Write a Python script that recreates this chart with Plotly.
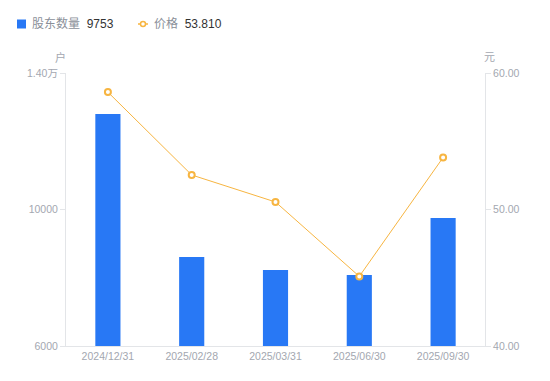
import plotly.graph_objects as go

dates = ["2024/12/31", "2025/02/28", "2025/03/31", "2025/06/30", "2025/09/30"]
holders = [12800, 8610, 8230, 8080, 9753]
price = [58.60, 52.53, 50.55, 45.10, 53.81]

left_ticks = [6000, 10000, 14000]
left_ticktext = ["6000", "10000", "1.40万"]
right_ticks = [40, 50, 60]
right_ticktext = ["40.00", "50.00", "60.00"]

BLUE = "#2878f5"
ORANGE = "#f7b541"
GRAY = "#a3a7b0"
AXIS = "#e3e5e8"
FONT = "Liberation Sans, Arial, Noto Sans CJK SC, sans-serif"

fig = go.Figure()
fig.add_trace(go.Bar(
    x=dates, y=holders, name="股东数量", width=0.3,
    marker=dict(color=BLUE, line=dict(width=0)),
    yaxis="y", showlegend=False,
))
fig.add_trace(go.Scatter(
    x=dates, y=price, name="价格", mode="lines+markers",
    line=dict(color=ORANGE, width=1),
    marker=dict(symbol="circle", size=6, color="white", line=dict(color=ORANGE, width=2)),
    yaxis="y2", showlegend=False,
))

fig.update_layout(
    width=542, height=373,
    margin=dict(l=58, r=65, t=65, b=35),
    paper_bgcolor="white", plot_bgcolor="white",
    font=dict(family=FONT, size=10.5, color=GRAY),
    xaxis=dict(
        type="category", showgrid=False, zeroline=False,
        showline=True, linecolor=AXIS, linewidth=1,
        ticks="", tickfont=dict(size=10.5, color=GRAY),
    ),
    yaxis=dict(
        range=[6000, 14000], tickvals=left_ticks, ticktext=left_ticktext,
        showgrid=False, zeroline=False, showline=True, linecolor=AXIS, linewidth=1,
        ticks="outside", ticklen=5, tickcolor=AXIS, tickfont=dict(size=10.5, color=GRAY),
    ),
    yaxis2=dict(
        range=[40, 60], tickvals=right_ticks, ticktext=right_ticktext,
        overlaying="y", side="right",
        showgrid=False, zeroline=False, showline=True, linecolor=AXIS, linewidth=1,
        ticks="outside", ticklen=5, tickcolor=AXIS, tickfont=dict(size=10.5, color=GRAY),
    ),
    showlegend=False,
)

# axis unit labels
fig.add_annotation(text="户", xref="paper", yref="paper", x=-6/419, y=1.0, yshift=16,
                   showarrow=False, xanchor="center", yanchor="middle",
                   font=dict(size=11, color=GRAY))
fig.add_annotation(text="元", xref="paper", yref="paper", x=1 + 5/419, y=1.0, yshift=16,
                   showarrow=False, xanchor="center", yanchor="middle",
                   font=dict(size=11, color=GRAY))

# custom legend
LY = 1 + (73 - 24) / 273
fig.add_shape(type="rect", xref="paper", yref="paper",
              x0=-49/419, x1=-40/419, y0=1 + (73 - 28.5) / 273, y1=1 + (73 - 19.5) / 273,
              fillcolor=BLUE, line=dict(width=0))
fig.add_annotation(
    text=f"股东数量  <span style='color:#333'>{holders[-1]}</span>",
    xref="paper", yref="paper", x=-36/419, y=LY,
    xanchor="left", yanchor="middle", showarrow=False,
    font=dict(size=12, color="#8a8f99"))
fig.add_shape(type="line", xref="paper", yref="paper",
              x0=72/419, x1=82/419, y0=LY, y1=LY,
              line=dict(color=ORANGE, width=1.5))
fig.add_shape(type="circle", xref="paper", yref="paper",
              x0=74.5/419, x1=79.5/419, y0=1 + (73 - 26.5) / 273, y1=1 + (73 - 21.5) / 273,
              fillcolor="white", line=dict(color=ORANGE, width=1.5))
fig.add_annotation(
    text=f"价格  <span style='color:#333'>{price[-1]:.3f}</span>",
    xref="paper", yref="paper", x=86/419, y=LY,
    xanchor="left", yanchor="middle", showarrow=False,
    font=dict(size=12, color="#8a8f99"))

fig.write_html("out.html")
